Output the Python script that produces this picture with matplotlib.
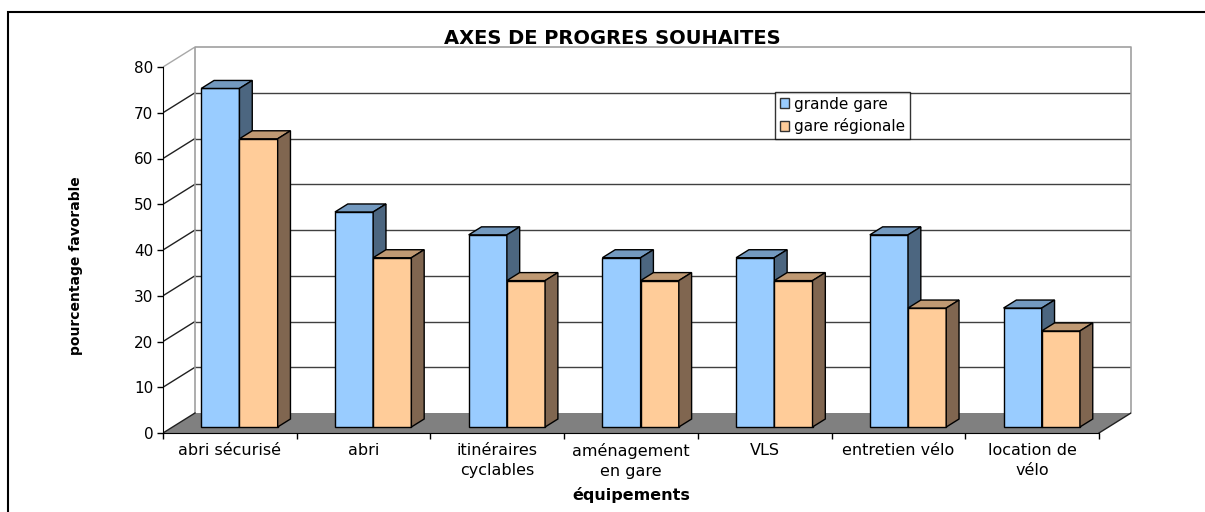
import matplotlib
matplotlib.use("Agg")
import matplotlib.pyplot as plt
from matplotlib.patches import Polygon, Rectangle, Patch

# data
categories = ["abri sécurisé", "abri", "itinéraires\ncyclables", "aménagement\nen gare",
              "VLS", "entretien vélo", "location de\nvélo"]
grande_gare = [74, 47, 42, 37, 37, 42, 26]
gare_regionale = [63, 37, 32, 32, 32, 26, 21]
series_names = ["grande gare", "gare régionale"]
yticks = [0, 10, 20, 30, 40, 50, 60, 70, 80]

# colours: front face, top face, side face
colors = [("#99CCFF", "#7399BF", "#4C6680"),
          ("#FFCC99", "#BF9973", "#806650")]

plt.rcParams['font.family'] = ['DejaVu Sans']

W, H = 1205, 512
fig = plt.figure(figsize=(W / 100, H / 100), dpi=100)

# pseudo 3D frame: oblique offset of the back wall in data units
n = len(categories)
DX = 32 / 133.7      # category units
DY = 20 / 4.575      # value units
ymax = 80

x0, y0 = 163, 433    # front origin in pixels
x1, y1 = 1131, 47    # back top-right in pixels
ax = fig.add_axes([x0 / W, (H - y0) / H, (x1 - x0) / W, (y0 - y1) / H])
ax.set_xlim(0, n + DX)
ax.set_ylim(0, ymax + DY)
ax.set_facecolor("none")

# back wall gridlines and left wall diagonals
for v in yticks:
    if 0 < v < ymax:
        ax.plot([DX, n + DX], [v + DY, v + DY], color="#404040", lw=1, zorder=1)
        ax.plot([0, DX], [v, v + DY], color="#202020", lw=1, zorder=1)
ax.plot([0, DX], [ymax, ymax + DY], color="#a8a8a8", lw=1, zorder=1)
ax.plot([DX, DX, n + DX, n + DX], [DY, ymax + DY, ymax + DY, DY], color="#a0a0a0",
        lw=1.2, zorder=1, clip_on=False)

# floor
ax.add_patch(Polygon([(0, 0), (n, 0), (n + DX, DY), (DX, DY)], closed=True,
                     facecolor="#808080", edgecolor="none", zorder=2))
ax.plot([0, DX], [0, DY], color="#202020", lw=1, zorder=2)
ax.plot([n, n + DX], [0, DY], color="#202020", lw=1, zorder=2)

# bars: gap width 150 %, gap depth 150 %
bw = 1 / 3.5
d0, d1 = 0.3, 0.7
z = 3
for i in range(n):
    for j, vals in enumerate([grande_gare, gare_regionale]):
        v = vals[i]
        front, top, side = colors[j]
        xl = i + 0.5 - bw + j * bw
        xr = xl + bw
        ax.bar(xl + d0 * DX, v, width=bw, bottom=d0 * DY, align="edge",
               color=front, edgecolor="black", lw=1, zorder=z)
        ax.add_patch(Polygon([(xl + d0 * DX, v + d0 * DY), (xr + d0 * DX, v + d0 * DY),
                              (xr + d1 * DX, v + d1 * DY), (xl + d1 * DX, v + d1 * DY)],
                             closed=True, facecolor=top, edgecolor="black", lw=1, zorder=z))
        ax.add_patch(Polygon([(xr + d0 * DX, d0 * DY), (xr + d1 * DX, d1 * DY),
                              (xr + d1 * DX, v + d1 * DY), (xr + d0 * DX, v + d0 * DY)],
                             closed=True, facecolor=side, edgecolor="black", lw=1, zorder=z))
        z += 1

# axes
for s in ["top", "right"]:
    ax.spines[s].set_visible(False)
ax.spines["left"].set_bounds(0, ymax)
ax.spines["bottom"].set_bounds(0, n)
ax.spines["left"].set_zorder(50)
ax.spines["bottom"].set_zorder(50)
ax.set_yticks(yticks)
ax.tick_params(axis="y", length=4, width=1, pad=3, labelsize=11)
ax.set_xticks(range(n + 1))
ax.set_xticklabels([])
ax.set_xticks([i + 0.5 for i in range(n)], minor=True)
ax.set_xticklabels(categories, minor=True, fontsize=11.5, linespacing=1.45)
ax.tick_params(axis="x", which="major", length=4, width=1)
ax.tick_params(axis="x", which="minor", length=0, pad=7)

# texts
fig.text(612 / W, 1 - 38 / H, "AXES DE PROGRES SOUHAITES", ha="center", va="center",
         fontsize=14, fontweight="bold")
fig.text(76 / W, 1 - 266 / H, "pourcentage favorable", ha="center", va="center",
         rotation=90, fontsize=10, fontweight="bold")
fig.text(631 / W, 1 - 495 / H, "équipements", ha="center", va="center",
         fontsize=11.5, fontweight="bold")

# legend
handles = [Patch(facecolor=colors[k][0], edgecolor="#333333", lw=1) for k in range(2)]
leg = fig.legend(handles, series_names, loc="upper left",
                 bbox_to_anchor=(775 / W, 1 - 92 / H), bbox_transform=fig.transFigure,
                 fancybox=False, frameon=True, fontsize=11, borderpad=0.3,
                 handlelength=0.6, handleheight=0.6, handletextpad=0.35,
                 labelspacing=0.45, borderaxespad=0)
leg.get_frame().set_edgecolor("black")
leg.get_frame().set_linewidth(1)

# outer frame of the chart area
fig.patches.append(Rectangle((8 / W, -0.1), 1.2, 1 - 12 / H + 0.1, transform=fig.transFigure,
                             fill=False, edgecolor="black", lw=1.5))

fig.savefig("out.png", dpi=100)
